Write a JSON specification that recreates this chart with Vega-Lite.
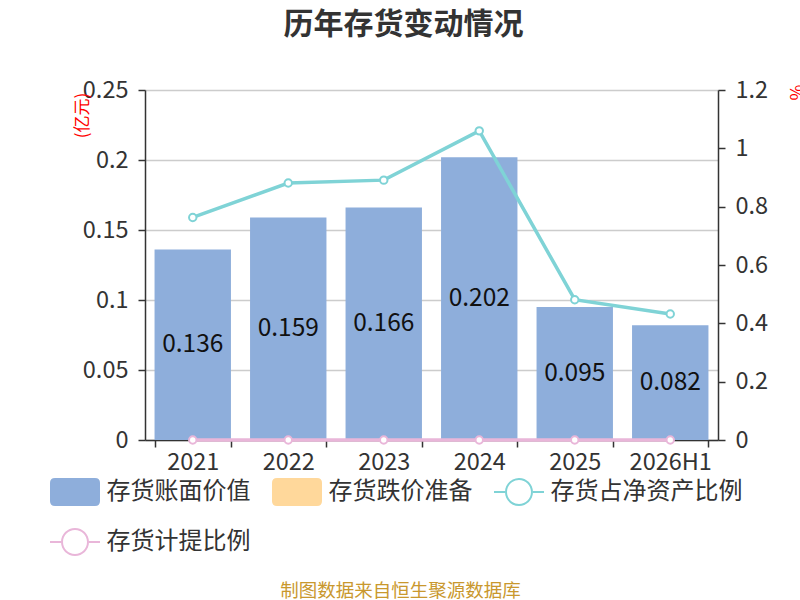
{
  "$schema": "https://vega.github.io/schema/vega-lite/v6.json",
  "autosize": {"type": "none"},
  "width": 573,
  "height": 350,
  "padding": {"left": 145, "top": 90, "right": 82, "bottom": 160},
  "background": "#ffffff",
  "title": {
    "text": "历年存货变动情况",
    "fontSize": 30,
    "fontWeight": "bold",
    "color": "#333333",
    "anchor": "middle",
    "dx": -28,
    "offset": 38
  },
  "datasets": {
    "bars": [
      {"year": "2021", "series": "存货账面价值", "value": 0.136},
      {"year": "2022", "series": "存货账面价值", "value": 0.159},
      {"year": "2023", "series": "存货账面价值", "value": 0.166},
      {"year": "2024", "series": "存货账面价值", "value": 0.202},
      {"year": "2025", "series": "存货账面价值", "value": 0.095},
      {"year": "2026H1", "series": "存货账面价值", "value": 0.082},
      {"year": "2021", "series": "存货跌价准备", "value": 0},
      {"year": "2022", "series": "存货跌价准备", "value": 0},
      {"year": "2023", "series": "存货跌价准备", "value": 0},
      {"year": "2024", "series": "存货跌价准备", "value": 0},
      {"year": "2025", "series": "存货跌价准备", "value": 0},
      {"year": "2026H1", "series": "存货跌价准备", "value": 0}
    ],
    "ratios": [
      {"year": "2021", "series": "存货占净资产比例", "value": 0.763},
      {"year": "2022", "series": "存货占净资产比例", "value": 0.881},
      {"year": "2023", "series": "存货占净资产比例", "value": 0.891},
      {"year": "2024", "series": "存货占净资产比例", "value": 1.06},
      {"year": "2025", "series": "存货占净资产比例", "value": 0.481},
      {"year": "2026H1", "series": "存货占净资产比例", "value": 0.432},
      {"year": "2021", "series": "存货计提比例", "value": 0},
      {"year": "2022", "series": "存货计提比例", "value": 0},
      {"year": "2023", "series": "存货计提比例", "value": 0},
      {"year": "2024", "series": "存货计提比例", "value": 0},
      {"year": "2025", "series": "存货计提比例", "value": 0},
      {"year": "2026H1", "series": "存货计提比例", "value": 0}
    ]
  },
  "config": {
    "font": "Noto Sans CJK SC",
    "view": {"stroke": null},
    "axis": {
      "labelFontSize": 23.5,
      "labelColor": "#333333",
      "domainColor": "#333333",
      "domainWidth": 1.5,
      "tickColor": "#333333",
      "tickWidth": 1.5,
      "tickSize": 7,
      "titleFontWeight": "normal"
    },
    "legend": {
      "orient": "none",
      "legendX": -95,
      "legendY": 377,
      "direction": "horizontal",
      "columns": 3,
      "columnPadding": 21,
      "rowPadding": 11,
      "symbolSize": 2500,
      "labelFontSize": 24,
      "labelColor": "#333333",
      "labelOffset": 6.5,
      "labelLimit": 400,
      "title": null
    }
  },
  "encoding": {
    "x": {
      "field": "year",
      "type": "nominal",
      "sort": null,
      "scale": {"paddingInner": 0.2, "paddingOuter": 0.1},
      "axis": {
        "labelAngle": 0,
        "labelPadding": 3,
        "tickBand": "extent",
        "title": "制图数据来自恒生聚源数据库",
        "titleFontSize": 18.5,
        "titleColor": "#c9982e",
        "titleX": 255,
        "titleY": 150,
        "titleAlign": "center",
        "titleBaseline": "middle"
      }
    }
  },
  "layer": [
    {
      "data": {"name": "bars"},
      "mark": {"type": "bar"},
      "encoding": {
        "y": {
          "field": "value",
          "type": "quantitative",
          "stack": "zero",
          "scale": {"domain": [0, 0.25], "nice": false},
          "axis": {
            "orient": "left",
            "values": [0, 0.05, 0.1, 0.15, 0.2, 0.25],
            "format": "~g",
            "grid": true,
            "gridColor": "#cccccc",
            "gridWidth": 1.5,
            "labelPadding": 10,
            "title": "(亿元)",
            "titleColor": "#ff0000",
            "titleFontSize": 17,
            "titleAngle": 270,
            "titleX": -63,
            "titleY": 25,
            "titleAlign": "center",
            "titleBaseline": "middle"
          }
        },
        "color": {
          "field": "series",
          "type": "nominal",
          "scale": {
            "domain": ["存货账面价值", "存货跌价准备", "存货占净资产比例", "存货计提比例"],
            "range": ["#8eaedb", "#ffd89b", "#7fd3d6", "#e9b6d9"]
          },
          "legend": {
            "encode": {
              "symbols": {
                "update": {
                  "shape": {"signal": "(datum.value === '存货账面价值' || datum.value === '存货跌价准备') ? 'M-0.8,-0.56H0.8Q1,-0.56,1,-0.36V0.36Q1,0.56,0.8,0.56H-0.8Q-1,0.56,-1,0.36V-0.36Q-1,-0.56,-0.8,-0.56Z' : 'M-1,-0.04H-0.56V0.04H-1Z M0.56,-0.04H1V0.04H0.56Z M-0.56,0A0.56,0.56,0,1,1,0.56,0A0.56,0.56,0,1,1,-0.56,0Z M-0.48,0A0.48,0.48,0,1,0,0.48,0A0.48,0.48,0,1,0,-0.48,0Z'"},
                  "fill": {"signal": "scale('color', datum.value)"},
                  "stroke": {"value": "transparent"},
                  "strokeWidth": {"value": 0},
                  "opacity": {"value": 1},
                  "fillOpacity": {"value": 1}
                }
              }
            }
          }
        }
      }
    },
    {
      "data": {"name": "bars"},
      "transform": [{"filter": "datum.series === '存货账面价值'"}],
      "mark": {"type": "text", "fontSize": 24.5, "color": "#111111", "baseline": "middle"},
      "encoding": {
        "y": {
          "field": "value",
          "type": "quantitative",
          "scale": {"domain": [0, 0.5], "nice": false},
          "axis": null
        },
        "text": {"field": "value", "type": "quantitative", "format": ".3f"}
      }
    },
    {
      "data": {"name": "ratios"},
      "mark": {
        "type": "line",
        "strokeWidth": 3.5,
        "point": {"filled": false, "fill": "#ffffff", "size": 55, "strokeWidth": 2, "opacity": 1}
      },
      "encoding": {
        "y": {
          "field": "value",
          "type": "quantitative",
          "scale": {"domain": [0, 1.2], "nice": false},
          "axis": {
            "orient": "right",
            "values": [0, 0.2, 0.4, 0.6, 0.8, 1, 1.2],
            "format": "~g",
            "grid": false,
            "labelPadding": 10,
            "title": "%",
            "titleColor": "#ff0000",
            "titleFontSize": 17,
            "titleAngle": 90,
            "titleX": 76,
            "titleY": 2,
            "titleAlign": "center",
            "titleBaseline": "middle"
          }
        },
        "color": {
          "field": "series",
          "type": "nominal",
          "scale": {
            "domain": ["存货账面价值", "存货跌价准备", "存货占净资产比例", "存货计提比例"],
            "range": ["#8eaedb", "#ffd89b", "#7fd3d6", "#e9b6d9"]
          }
        }
      }
    }
  ],
  "resolve": {"scale": {"y": "independent"}}
}
